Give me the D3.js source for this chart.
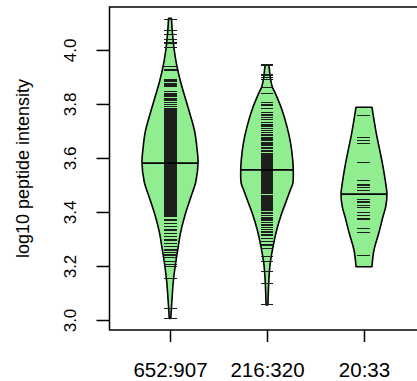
<!DOCTYPE html>
<html><head><meta charset="utf-8">
<script src="https://cdn.jsdelivr.net/npm/d3@7"></script>
<style>body{margin:0;background:#fff}svg{display:block}text{font-family:"Liberation Sans",Arial,sans-serif;fill:#000}</style>
</head><body><svg id="c" width="417" height="381"></svg>
<script>
const categories = ["652:907", "216:320", "20:33"];
const yTicks = [3.0, 3.2, 3.4, 3.6, 3.8, 4.0];
const yTitle = "log10 peptide intensity";
const medians = [3.581, 3.556, 3.466];

// bean outlines: [log10 intensity, half width in category units]
const bean1Profile = [[4.117,0.015],[4.068,0.024],[4.006,0.041],[3.944,0.069],[3.883,0.108],[3.821,0.158],[3.759,0.209],[3.697,0.255],[3.636,0.278],[3.581,0.289],[3.512,0.266],[3.451,0.211],[3.389,0.155],[3.327,0.111],[3.266,0.082],[3.204,0.055],[3.142,0.034],[3.080,0.021],[3.019,0.010],[3.006,0.008]];
const bean2Profile = [[3.944,0.015],[3.938,0.021],[3.901,0.033],[3.864,0.054],[3.840,0.085],[3.778,0.155],[3.716,0.206],[3.654,0.244],[3.593,0.265],[3.556,0.271],[3.506,0.266],[3.481,0.240],[3.444,0.203],[3.395,0.152],[3.333,0.100],[3.271,0.062],[3.210,0.033],[3.148,0.019],[3.086,0.012],[3.056,0.010]];
const bean3Profile = [[3.788,0.082],[3.691,0.127],[3.630,0.162],[3.568,0.196],[3.506,0.224],[3.466,0.237],[3.420,0.224],[3.383,0.196],[3.321,0.152],[3.259,0.103],[3.197,0.082]];

// individual observations (bean lines)
const bean1Values = [4.114,4.072,4.058,4.040,4.026,4.008,3.938,3.926,3.889,3.882,3.876,3.870,3.864,
3.846,3.840,3.833,3.827,3.821,3.815,3.806,3.799,3.790,3.781,3.775,3.771,3.767,3.764,3.760,3.757,3.753,3.750,3.746,3.743,3.739,3.736,3.732,3.729,3.725,3.722,3.718,3.715,3.711,3.708,3.704,3.701,3.697,3.694,3.690,3.687,3.683,3.680,3.676,3.673,3.669,3.666,3.662,3.659,3.655,3.652,3.648,3.645,3.641,3.638,3.634,3.631,3.627,3.624,3.620,3.617,3.613,3.610,3.606,3.603,3.599,3.596,3.592,3.589,3.585,3.582,3.578,3.575,3.571,3.568,3.564,3.561,3.557,3.554,3.550,3.547,3.543,3.540,3.536,3.533,3.529,3.526,3.522,3.519,3.515,3.512,3.508,3.505,3.501,3.498,3.494,3.491,3.487,3.484,3.480,3.477,3.473,3.470,3.466,3.463,3.459,3.456,3.452,3.449,3.445,3.442,3.438,3.435,3.431,3.428,3.424,3.421,3.417,3.414,3.410,3.407,3.403,3.400,3.396,3.393,3.389,
3.383,3.370,3.358,3.346,3.333,3.321,3.309,3.296,3.284,3.271,3.259,3.251,3.241,3.231,3.216,3.206,3.197,3.154,3.043,3.006];
const bean2Values = [3.944,3.907,3.899,3.891,3.862,3.840,3.805,3.796,3.784,3.768,3.759,3.751,3.741,3.731,
3.722,3.716,3.708,3.701,3.695,3.688,3.683,3.676,3.670,3.664,3.657,3.652,3.646,3.640,3.634,3.629,3.623,3.618,3.612,3.607,3.601,3.596,3.591,3.586,3.581,3.577,3.572,3.568,3.563,3.559,3.555,3.551,3.547,3.543,3.538,3.534,3.530,3.526,3.522,3.518,3.514,3.510,3.506,3.502,3.497,3.493,3.489,3.485,3.480,3.476,3.471,3.467,3.462,3.458,3.453,3.448,3.443,3.438,3.433,3.428,3.422,3.417,3.411,3.405,3.399,3.393,3.387,3.381,3.374,3.367,3.360,3.352,3.344,3.336,3.329,3.323,3.315,3.303,3.290,3.278,3.266,3.234,3.216,3.179,3.136,3.056];
const bean3Values = [3.756,3.675,3.664,3.653,3.584,3.517,3.500,3.491,3.481,3.466,3.447,3.437,3.423,3.416,3.399,3.386,3.374,3.338,3.323,3.240];

const profiles = [bean1Profile, bean2Profile, bean3Profile];
const values = [bean1Values, bean2Values, bean3Values];

const svg = d3.select("#c");
svg.append("rect").attr("width",417).attr("height",381).attr("fill","#fff");

const x = d3.scaleLinear().domain([0.376, 3.624]).range([109.5, 424.5]);
const y = d3.scaleLinear().domain([2.963, 4.159]).range([330, 7]);
const lineHalf = 0.067;

const g = svg.append("g");
profiles.forEach((prof, i) => {
  const c = i + 1;
  const area = d3.area()
    .y(d => y(d[0]))
    .x0(d => x(c - d[1]))
    .x1(d => x(c + d[1]))
    .curve(d3.curveCatmullRom);
  g.append("path").attr("d", area(prof))
    .attr("fill", "#90EE90").attr("stroke", "#000").attr("stroke-width", 1.6)
    .attr("stroke-linejoin","round");
  g.selectAll(null).data(values[i]).enter().append("line")
    .attr("x1", x(c - lineHalf)).attr("x2", x(c + lineHalf))
    .attr("y1", d => y(d)).attr("y2", d => y(d))
    .attr("stroke", "#1e1e1e").attr("stroke-width", 1.2)
    .attr("shape-rendering", "crispEdges");
  // median line across bean width
  const m = medians[i];
  let w = 0;
  for (let k = 0; k < prof.length - 1; k++) {
    const a = prof[k], b = prof[k+1];
    if (m <= a[0] && m >= b[0]) { w = a[1] + (b[1]-a[1]) * (m - a[0]) / (b[0]-a[0]); break; }
  }
  g.append("line").attr("x1", x(c - w)).attr("x2", x(c + w))
    .attr("y1", y(m)).attr("y2", y(m)).attr("stroke","#000").attr("stroke-width",1.6);
});

// box
svg.append("rect").attr("x",109.5).attr("y",7).attr("width",315).attr("height",323)
  .attr("fill","none").attr("stroke","#000").attr("stroke-width",1.5);

// y axis
const ya = svg.append("g").attr("transform","translate(109.5,0)")
  .call(d3.axisLeft(y).tickValues(yTicks).tickSize(13).tickFormat(d3.format(".1f")));
ya.select(".domain").remove();
ya.selectAll(".tick line").attr("stroke","#000").attr("stroke-width",1.5);
ya.selectAll(".tick text").attr("x",0).attr("dy",null).attr("y",-33.5)
  .attr("transform","rotate(-90)").attr("text-anchor","middle")
  .style("font-size","17px").style("font-family","'Liberation Sans',Arial,sans-serif").attr("fill","#000");

// x axis
const xa = svg.append("g").attr("transform","translate(0,330)")
  .call(d3.axisBottom(x).tickValues([1,2,3]).tickSize(12).tickFormat(d => categories[d-1]));
xa.select(".domain").remove();
xa.selectAll(".tick line").attr("stroke","#000").attr("stroke-width",1.5);
xa.selectAll(".tick text").attr("dy",null).attr("y",47)
  .style("font-size","20.5px").style("font-family","'Liberation Sans',Arial,sans-serif").attr("fill","#000");

svg.append("text").attr("transform","translate(29,168.5) rotate(-90)")
  .attr("text-anchor","middle").style("font-size","18px").text(yTitle);
</script></body></html>
